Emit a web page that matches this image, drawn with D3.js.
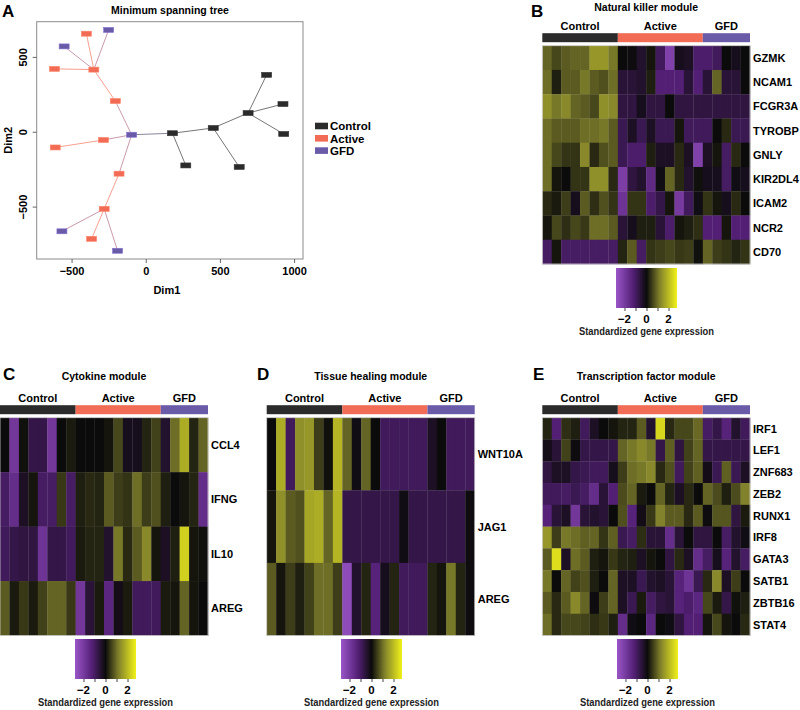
<!DOCTYPE html>
<html>
<head>
<meta charset="utf-8">
<script src="https://cdn.jsdelivr.net/npm/d3@7"></script>
<style>
  body { margin: 0; background: #fff; }
  text { font-family: "Liberation Sans", Arial, Helvetica, sans-serif; }
</style>
</head>
<body>
<svg id="fig" width="800" height="710"></svg>
<script>
// ---- data ----
var groups = ["Control", "Active", "GFD"];
var groupColors = ["#2b2b2b", "#f26b55", "#6a5ba8"];
// 22 samples, order used in all heatmaps
var sampleGroups = ["Control","Control","Control","Control","Control","Control","Control","Control",
  "Active","Active","Active","Active","Active","Active","Active","Active","Active",
  "GFD","GFD","GFD","GFD","GFD"];

// minimum spanning tree nodes (Dim1, Dim2)
var mstNodes = [
  {id: "C1", group: "Control", dim1: 180, dim2: -10},
  {id: "C2", group: "Control", dim1: 270, dim2: -225},
  {id: "C3", group: "Control", dim1: 455, dim2: 25},
  {id: "C4", group: "Control", dim1: 630, dim2: -235},
  {id: "C5", group: "Control", dim1: 690, dim2: 125},
  {id: "C6", group: "Control", dim1: 815, dim2: 380},
  {id: "C7", group: "Control", dim1: 925, dim2: 185},
  {id: "C8", group: "Control", dim1: 930, dim2: -15},
  {id: "A1", group: "Active", dim1: -400, dim2: 655},
  {id: "A2", group: "Active", dim1: -615, dim2: 420},
  {id: "A3", group: "Active", dim1: -350, dim2: 415},
  {id: "A4", group: "Active", dim1: -205, dim2: 205},
  {id: "A5", group: "Active", dim1: -285, dim2: -55},
  {id: "A6", group: "Active", dim1: -610, dim2: -105},
  {id: "A7", group: "Active", dim1: -180, dim2: -280},
  {id: "A8", group: "Active", dim1: -280, dim2: -515},
  {id: "A9", group: "Active", dim1: -365, dim2: -715},
  {id: "G1", group: "GFD", dim1: -550, dim2: 570},
  {id: "G2", group: "GFD", dim1: -250, dim2: 680},
  {id: "G3", group: "GFD", dim1: -95, dim2: -20},
  {id: "G4", group: "GFD", dim1: -565, dim2: -665},
  {id: "G5", group: "GFD", dim1: -190, dim2: -795}
];
var mstEdges = [
  ["C1","C3"], ["C1","C2"], ["C3","C4"], ["C3","C5"], ["C5","C6"], ["C5","C7"], ["C5","C8"],
  ["G3","C1"], ["G3","A5"], ["A5","A6"], ["G3","A4"], ["A4","A3"], ["A3","A2"], ["A3","A1"],
  ["A3","G1"], ["A3","G2"], ["G3","A7"], ["A7","A8"], ["A8","G4"], ["A8","A9"], ["A8","G5"]
];
var xTicks = [-500, 0, 500, 1000];
var yTicks = [-500, 0, 500];

// heatmaps: standardized expression, rows = genes, cols = samples
var nkGenes = ["GZMK","NCAM1","FCGR3A","TYROBP","GNLY","KIR2DL4","ICAM2","NCR2","CD70"];
var nkValues = [
  [0.9,0.6,0.8,0.9,0.9,1.5,1.5,1.1, 0,-0.05,-0.4,0.1,-0.9,-2.2,-0.2,-0.3,-1.1, -1.1,-0.9,0,-0.2,0],
  [1.0,0.2,0.8,0.8,1.1,0.8,0.7,1.0, -0.5,-0.5,-0.4,0.2,-1.2,-1.2,-1.2,-0.5,-1.2, -0.5,0.9,-0.5,-0.5,0],
  [1.4,1.1,1.3,0.9,0.8,0.6,1.4,1.3, -0.6,-0.6,-0.2,-0.6,-0.6,0,-0.6,-0.6,-0.6, -0.6,-0.6,-0.6,-0.6,-0.6],
  [1.0,0.8,0.8,0.8,1.0,1.0,1.1,0.8, -0.8,-0.3,-0.8,-0.3,-0.8,-0.8,0.1,-0.9,-0.9, -0.9,0,0.3,-0.8,-0.8],
  [1.0,0.6,0.4,0.4,1.3,0.3,0.7,0.8, -0.8,-1.1,-1.1,0.2,-0.3,-0.3,0.3,-0.3,-2.2, -0.3,0.1,-1.0,0.3,0],
  [1.0,0.1,0,0.4,0.4,1.4,1.4,0.3, -2.1,-0.6,-0.4,-1.5,-0.1,0.9,0.3,-0.4,0.05, -0.2,-0.2,-1.0,-0.1,-0.2],
  [0.3,0.15,0.5,-0.2,0.8,0.35,0.7,0.4, -1.8,0.4,0.4,-1.1,-0.7,0.1,-2.0,-0.9,-0.1, 0.4,0.1,-0.2,0.3,0],
  [0.1,0.6,0.35,0.6,0.45,1.0,1.0,0.8, -0.5,-0.2,0.2,0.2,-0.5,-1.1,0.1,0.2,0.35, -1.2,-1.2,0.1,-1.2,-1.2],
  [-1.0,0.1,-1.0,-1.0,-1.0,-1.0,-1.0,-1.0, 0.25,0.8,-1.0,0.4,0.5,0.6,0.45,0.5,0.05, 0.9,0.5,0.4,0.25,0.4]
];
var cytokineGenes = ["CCL4","IFNG","IL10","AREG"];
var cytokineValues = [
  [0,-1.9,0.05,-0.7,-0.7,-1.9,0,0.15, 0,0,0,0.1,0.6,-0.2,-0.2,0.25,0.55, -0.4,1.0,1.8,0.25,0.9],
  [-1.0,-1.6,-0.3,0.1,-1.0,-1.0,0.45,-1.0, 0.2,0.3,0.25,0.8,0.5,0.4,1.0,0.5,0.7, 0.2,0,0.1,0.25,-1.6],
  [-0.9,-0.7,-0.6,-0.6,-1.8,-0.7,-0.7,-0.9, 0.15,0.25,0.25,-0.4,1.1,0.3,0.8,1.3,0.1, -0.3,0.2,2.3,0.1,0.05],
  [0.8,0.15,0.45,0.15,0.55,0.9,0.9,0.45, -1.9,-0.5,0.15,-1.4,-0.15,0.15,-0.9,-0.9,-0.9, 0.15,0.1,0.9,0.1,0]
];
var healingGenes = ["WNT10A","JAG1","AREG"];
var healingValues = [
  [0,1.8,-0.9,1.4,1.5,0.5,0.05,1.9, 0.9,-0.1,0.9,0,-0.9,-0.9,-0.9,-0.9,-0.9, -0.3,0,-0.9,-0.9,-0.9],
  [0.1,1.4,0.8,0.7,1.7,1.8,0.9,1.9, -0.7,-0.7,-0.7,-0.7,-0.7,-0.7,-0.1,-0.7,-0.7, -0.7,-0.7,-0.7,-0.7,-0.05],
  [0.8,0.1,0.5,0.2,0.55,1.0,1.0,0.5, -2.5,-0.4,0.25,-1.3,-0.2,0.25,-0.9,-0.9,-0.9, 0.25,0.1,1.1,0.25,-0.05]
];
var tfGenes = ["IRF1","LEF1","ZNF683","ZEB2","RUNX1","IRF8","GATA3","SATB1","ZBTB16","STAT4"];
var tfValues = [
  [0.25,-1.2,0.35,0.2,-0.9,-0.3,0,0.1, 0.25,0.25,0.8,-0.4,2.4,0.3,0.6,0.6,0.95, -1.0,-0.7,-1.3,-0.4,-0.9],
  [-0.15,-0.5,0.55,-0.05,-0.7,-0.7,-0.7,-0.7, 0.9,1.1,1.3,1.1,-0.7,0.85,-0.6,0.55,0.9, -0.7,-0.7,-0.7,-0.7,-0.7],
  [-0.6,-0.3,-0.3,-0.7,-0.8,-0.9,-0.9,-0.2, 0.5,1.0,1.1,1.3,0.3,0.7,-0.9,0.55,0.85, -0.15,-0.8,0.85,-0.8,-0.3],
  [-0.9,-0.9,-1.0,-0.8,-1.0,-1.6,-0.5,-1.2, 0.65,0.9,0.15,0,0.9,0.25,-0.3,0.3,0, 0.9,0.65,0.2,0.65,1.2],
  [-1.3,-0.5,-0.3,-1.9,-0.5,-0.4,-0.5,0, 0.7,-1.3,-0.15,0.45,1.2,0.8,0.8,0.3,0.8, -0.05,0.75,0.75,-0.6,0.15],
  [1.5,0.5,1.1,1.0,0.85,0.9,0.4,0.85, -0.8,-1.0,0.35,-0.5,-0.5,-1.6,-0.5,0,-0.6, -0.6,0,-1.0,-0.4,-0.1],
  [0.8,2.5,-0.3,1.0,0.8,0.2,0.1,0.45, 0.25,0.2,-0.3,0.1,0,-0.6,0.3,-0.3,-1.6, -1.0,-0.2,-1.3,-0.4,-1.0],
  [1.1,0,0.9,0.55,0.7,0.2,0,0.9, -0.3,-0.3,-0.8,-0.4,-0.3,-0.5,-1.3,-1.8,-0.8, 0.3,1.3,-0.3,0.5,0],
  [0.8,0.3,0.8,1.3,0.9,-0.05,0.5,0.9, -0.3,-0.8,0.15,-1.0,-0.6,-0.5,-1.3,-1.1,-1.4, 0.6,0.15,-0.7,0.05,0.2],
  [1.0,0.3,0.6,0.6,0.55,0.35,0.45,0.2, -1.6,-0.1,0,-1.4,0,-0.1,-0.6,-1.2,-1.2, 0.1,0.6,0.1,0,0.3]
];
var colorTicks = [-2, -1, 0, 1, 2];
var colorTickLabels = ["\u22122", "0", "2"];

// ---- helpers ----
var svg = d3.select("#fig");
var groupColor = d3.scaleOrdinal().domain(groups).range(groupColors);
var exprColor = d3.scaleLinear()
  .domain([-2.75, -1.2, 0, 1.2, 2.75])
  .range(["#9a55c8", "#521f74", "#0b0b0b", "#82822c", "#f0f01a"])
  .clamp(true);

function panelLetter(x, y, s) {
  svg.append("text").attr("x", x).attr("y", y).text(s)
    .style("font-size", "17px").style("font-weight", "bold");
}

// ---- panel A: minimum spanning tree ----
(function() {
  var left = 36.7, right = 303, top = 21.7, bottom = 259;
  var x = d3.scaleLinear().domain([-735, 1060]).range([left, right]);
  var y = d3.scaleLinear().domain([-850, 735]).range([bottom, top]);
  var g = svg.append("g");
  var byId = {};
  mstNodes.forEach(function(d){ byId[d.id] = d; });

  panelLetter(2, 17, "A");
  g.append("text").attr("x", 170).attr("y", 14).attr("text-anchor", "middle")
    .text("Minimum spanning tree").style("font-size", "10.5px").style("font-weight", "bold");

  g.append("rect").attr("x", left).attr("y", top).attr("width", right - left).attr("height", bottom - top)
    .attr("fill", "none").attr("stroke", "#8a8a8a").attr("stroke-width", 1);

  var xa = g.append("g").attr("transform", "translate(0," + bottom + ")")
    .call(d3.axisBottom(x).tickValues(xTicks).tickSize(4).tickPadding(4).tickFormat(d3.format("d")));
  xa.select(".domain").remove();
  xa.selectAll("line").attr("stroke", "#666");
  xa.selectAll("text").style("font-size", "11px").style("font-weight", "bold")
    .text(function(d){ return d < 0 ? "\u2212" + Math.abs(d) : d; });

  var ya = g.append("g").attr("transform", "translate(" + left + ",0)")
    .call(d3.axisLeft(y).tickValues(yTicks).tickSize(4).tickPadding(4));
  ya.select(".domain").remove();
  ya.selectAll("line").attr("stroke", "#666");
  ya.selectAll("text").style("font-size", "11px").style("font-weight", "bold")
    .attr("transform", "rotate(-90)").attr("x", 0).attr("y", -10).attr("dy", 0)
    .attr("text-anchor", "middle")
    .text(function(d){ return d < 0 ? "\u2212" + Math.abs(d) : d; });

  g.append("text").attr("x", (left + right) / 2 - 3).attr("y", 294).attr("text-anchor", "middle")
    .text("Dim1").style("font-size", "11px").style("font-weight", "bold");
  g.append("text").attr("transform", "translate(12," + ((top + bottom) / 2) + ") rotate(-90)")
    .attr("text-anchor", "middle").text("Dim2").style("font-size", "11px").style("font-weight", "bold");

  g.selectAll("line.edge").data(mstEdges).enter().append("line")
    .attr("class", "edge")
    .attr("x1", function(e){ return x(byId[e[0]].dim1); })
    .attr("y1", function(e){ return y(byId[e[0]].dim2); })
    .attr("x2", function(e){ return x(byId[e[1]].dim1); })
    .attr("y2", function(e){ return y(byId[e[1]].dim2); })
    .attr("stroke", function(e){
      return d3.interpolateRgb(groupColor(byId[e[0]].group), groupColor(byId[e[1]].group))(0.5);
    })
    .attr("stroke-opacity", 0.65)
    .attr("stroke-width", 1);

  g.selectAll("rect.node").data(mstNodes).enter().append("rect")
    .attr("class", "node")
    .attr("x", function(d){ return x(d.dim1) - 5; })
    .attr("y", function(d){ return y(d.dim2) - 2.5; })
    .attr("width", 10).attr("height", 5)
    .attr("fill", function(d){ return groupColor(d.group); })
    .attr("stroke", function(d){ return d3.color(groupColor(d.group)).brighter(0.6); })
    .attr("stroke-width", 0.6);

  var leg = g.selectAll("g.leg").data(groups).enter().append("g")
    .attr("transform", function(d, i){ return "translate(315," + (126 + i * 12.3) + ")"; });
  leg.append("rect").attr("x", 0).attr("y", -3.3).attr("width", 13).attr("height", 6.6)
    .attr("fill", function(d){ return groupColor(d); });
  leg.append("text").attr("x", 15).attr("y", 4.2).text(function(d){ return d; })
    .style("font-size", "11.5px").style("font-weight", "bold");
})();

// ---- heatmaps ----
function drawHeatmap(cfg) {
  var g = svg.append("g");
  var x = d3.scaleBand().domain(d3.range(sampleGroups.length)).range([cfg.left, cfg.right]);
  var y = d3.scaleBand().domain(cfg.genes).range([cfg.top, cfg.bottom]);
  var cx = (cfg.left + cfg.right) / 2;

  panelLetter(cfg.letterX, cfg.letterY, cfg.letter);
  g.append("text").attr("x", cx).attr("y", cfg.titleY).attr("text-anchor", "middle")
    .text(cfg.title).style("font-size", "10.5px").style("font-weight", "bold");

  // group annotation bar + labels
  var spans = groups.map(function(gr){
    var idx = d3.range(sampleGroups.length).filter(function(i){ return sampleGroups[i] === gr; });
    return {group: gr, x0: x(idx[0]), x1: x(idx[idx.length - 1]) + x.bandwidth()};
  });
  g.selectAll("rect.bar").data(spans).enter().append("rect")
    .attr("x", function(d){ return d.x0; }).attr("width", function(d){ return d.x1 - d.x0; })
    .attr("y", cfg.top - 12.5).attr("height", 9)
    .attr("fill", function(d){ return groupColor(d.group); });
  g.selectAll("text.grp").data(spans).enter().append("text")
    .attr("x", function(d){ return (d.x0 + d.x1) / 2; }).attr("y", cfg.top - 16)
    .attr("text-anchor", "middle").text(function(d){ return d.group; })
    .style("font-size", "11px").style("font-weight", "bold");

  // cells
  var cells = [];
  cfg.values.forEach(function(row, r){
    row.forEach(function(v, c){ cells.push({gene: cfg.genes[r], col: c, value: v}); });
  });
  g.selectAll("rect.cell").data(cells).enter().append("rect")
    .attr("x", function(d){ return x(d.col); })
    .attr("y", function(d){ return y(d.gene); })
    .attr("width", x.bandwidth() + 0.3).attr("height", y.bandwidth() + 0.3)
    .attr("fill", function(d){ return exprColor(d.value); });
  g.append("rect").attr("x", cfg.left).attr("y", cfg.top)
    .attr("width", cfg.right - cfg.left).attr("height", cfg.bottom - cfg.top)
    .attr("fill", "none").attr("stroke", "#d0d0d0").attr("stroke-width", 0.8);

  // gene labels
  g.selectAll("text.gene").data(cfg.genes).enter().append("text")
    .attr("x", cfg.right + 3).attr("y", function(d){ return y(d) + y.bandwidth() / 2 + 4; })
    .text(function(d){ return d; }).style("font-size", "11px").style("font-weight", "bold");

  // colour key
  var kx = d3.scaleLinear().domain([-2.77, 2.77]).range([cfg.keyX, cfg.keyX + 61]);
  var gid = "grad" + cfg.letter;
  var grad = svg.append("defs").append("linearGradient").attr("id", gid);
  d3.range(0, 1.0001, 0.05).forEach(function(t){
    grad.append("stop").attr("offset", t).attr("stop-color", exprColor(-2.77 + t * 5.54));
  });
  g.append("rect").attr("x", kx.range()[0]).attr("y", cfg.keyY).attr("width", 61).attr("height", 40)
    .attr("fill", "url(#" + gid + ")");
  var ka = g.append("g").attr("transform", "translate(0," + (cfg.keyY + 40) + ")")
    .call(d3.axisBottom(kx).tickValues(colorTicks).tickSize(3).tickPadding(2).tickFormat(""));
  ka.select(".domain").remove();
  ka.selectAll("line").attr("stroke", "#444");
  g.selectAll("text.ktick").data(colorTicks.filter(function(t){ return t % 2 === 0; })).enter().append("text")
    .attr("x", function(d){ return kx(d); }).attr("y", cfg.keyY + 55).attr("text-anchor", "middle")
    .text(function(d, i){ return colorTickLabels[i]; })
    .style("font-size", "11.5px").style("font-weight", "bold");
  g.append("text").attr("x", kx(0)).attr("y", cfg.keyY + 67).attr("text-anchor", "middle")
    .attr("textLength", 135).attr("lengthAdjust", "spacingAndGlyphs")
    .text("Standardized gene expression").style("font-size", "10.5px").style("font-weight", "bold")
    .attr("fill", "#222");
}

drawHeatmap({letter: "B", letterX: 531, letterY: 17, title: "Natural killer module", titleY: 11,
  genes: nkGenes, values: nkValues, left: 542.3, right: 750, top: 45.7, bottom: 264, keyX: 616, keyY: 268});
drawHeatmap({letter: "C", letterX: 3, letterY: 380, title: "Cytokine module", titleY: 380,
  genes: cytokineGenes, values: cytokineValues, left: 0, right: 208, top: 417.7, bottom: 635.5, keyX: 75, keyY: 639});
drawHeatmap({letter: "D", letterX: 257, letterY: 380, title: "Tissue healing module", titleY: 380,
  genes: healingGenes, values: healingValues, left: 266.7, right: 474.7, top: 417.7, bottom: 635.5, keyX: 341, keyY: 639});
drawHeatmap({letter: "E", letterX: 533, letterY: 380, title: "Transcription factor module", titleY: 380,
  genes: tfGenes, values: tfValues, left: 542.3, right: 750, top: 417.7, bottom: 635.5, keyX: 617, keyY: 639});
</script>
</body>
</html>
